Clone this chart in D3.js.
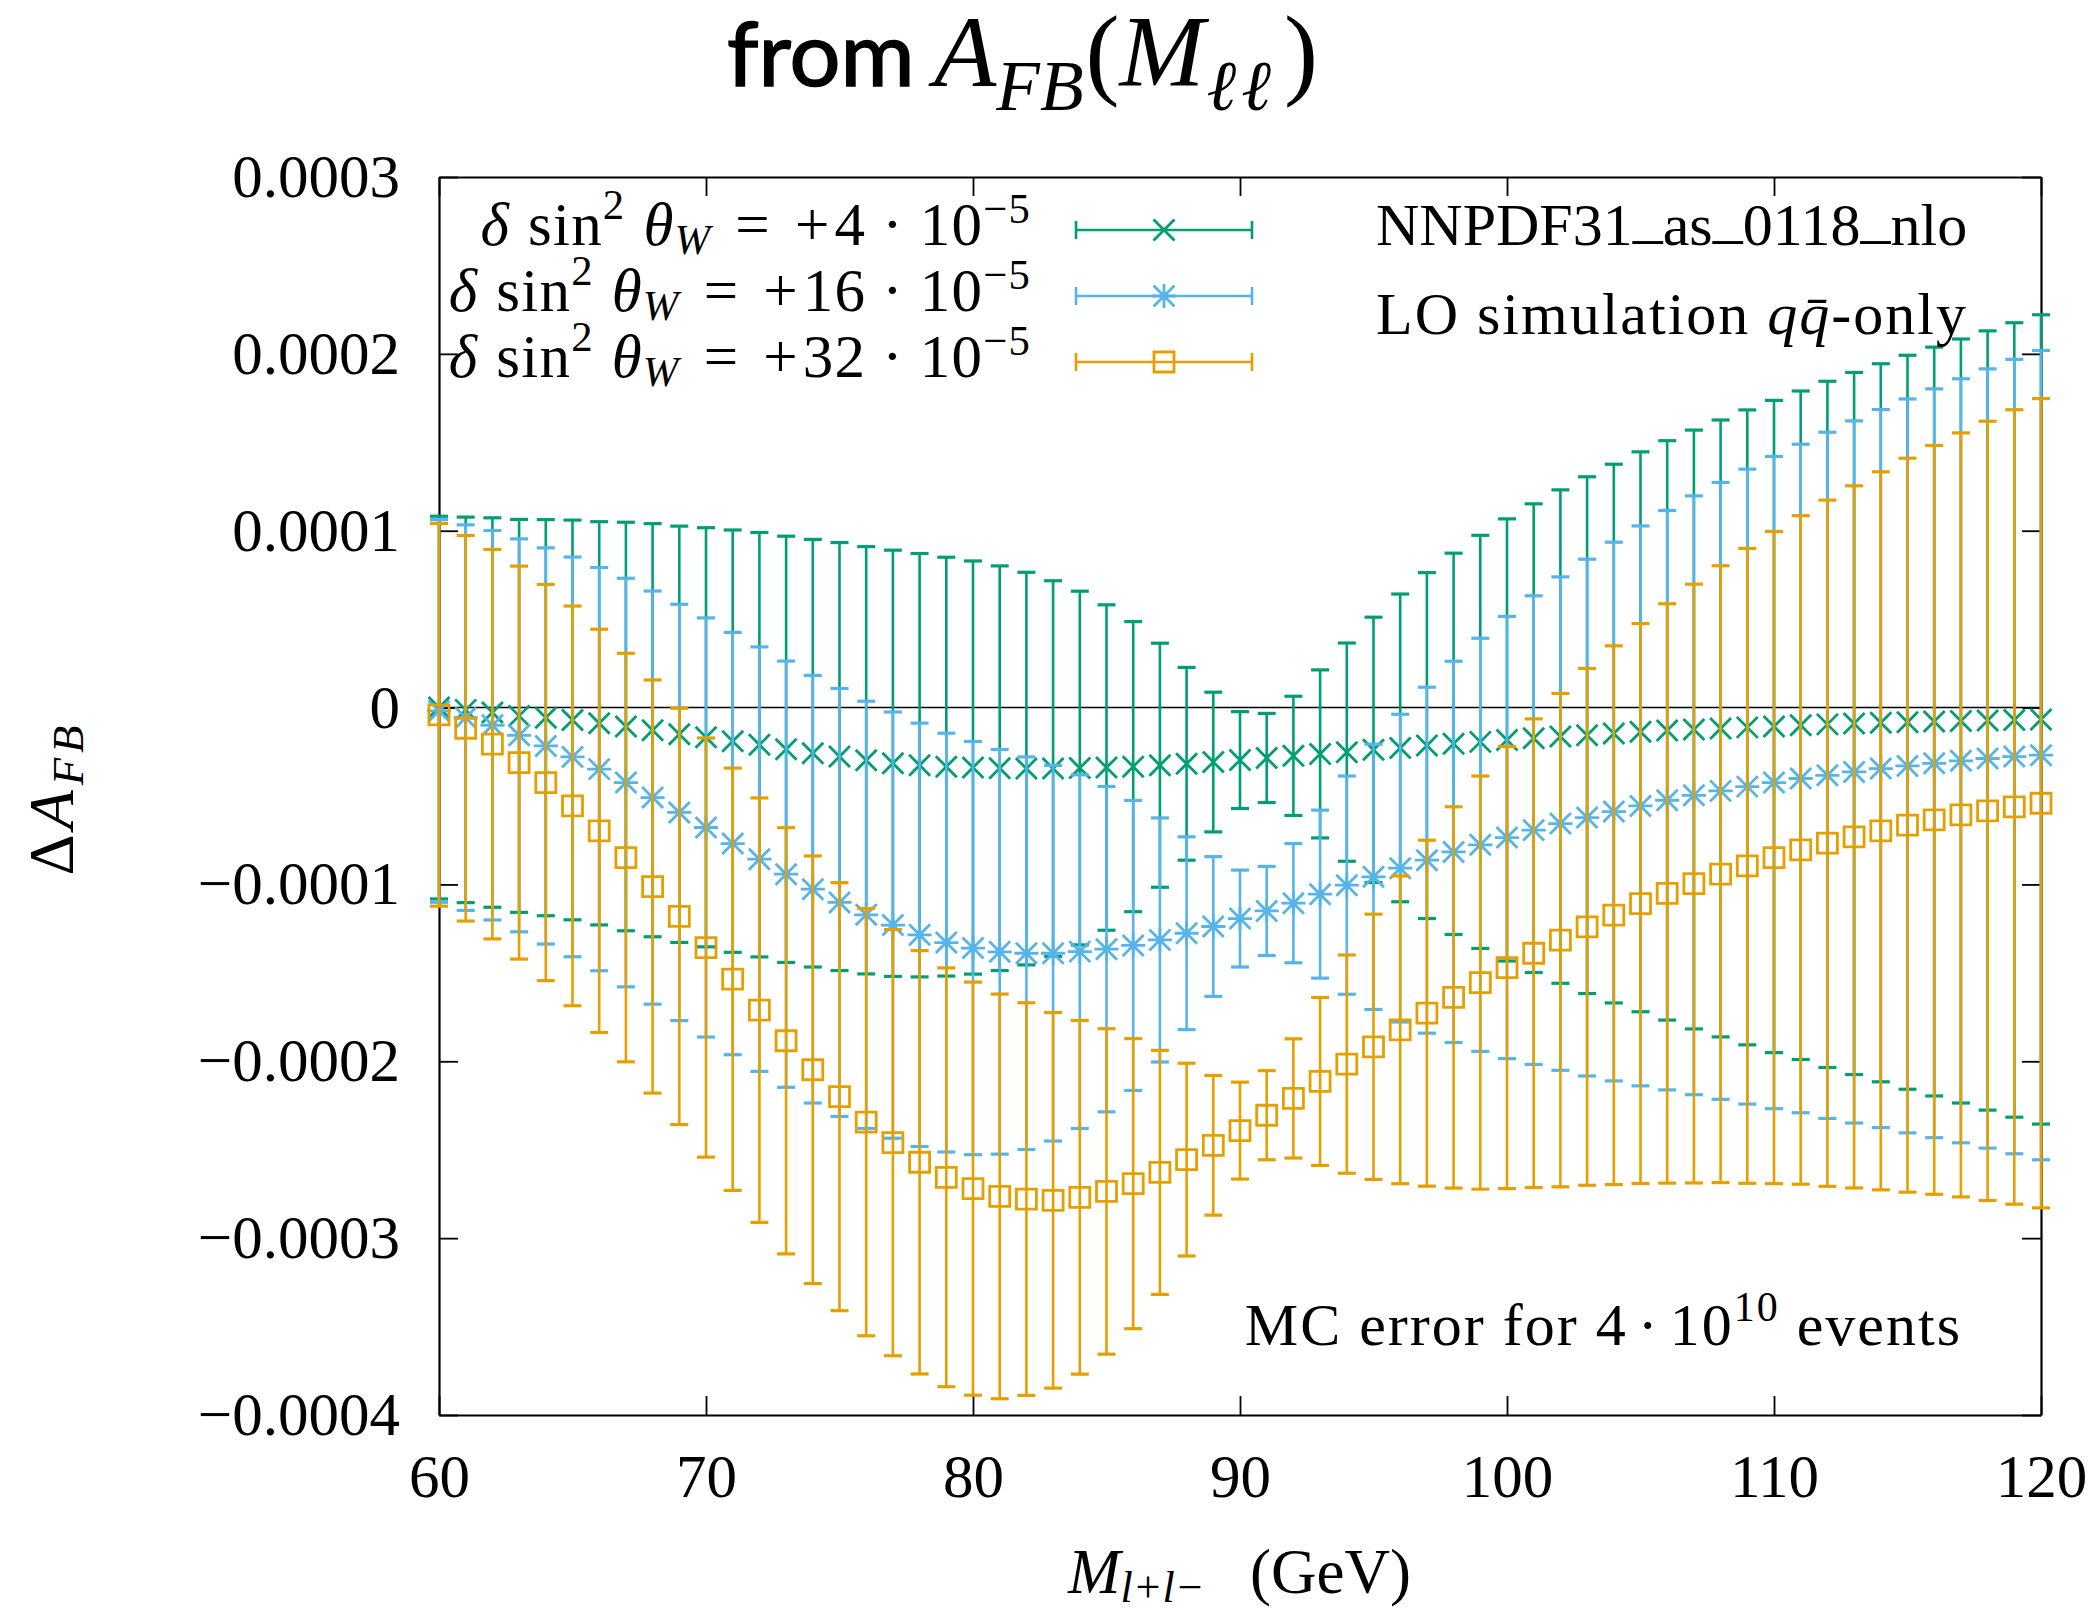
<!DOCTYPE html>
<html>
<head>
<meta charset="utf-8">
<script src="https://cdn.jsdelivr.net/npm/d3@7"></script>
<style>
  body { margin: 0; background: #fff; }
  svg text { font-family: "Liberation Serif", "DejaVu Serif", serif; fill: #000; white-space: pre; }
</style>
</head>
<body>
<svg id="chart" width="2095" height="1611"></svg>
<script>
// dilepton mass bins (GeV)
var masses = [60, 61, 62, 63, 64, 65, 66, 67, 68, 69,
  70, 71, 72, 73, 74, 75, 76, 77, 78, 79,
  80, 81, 82, 83, 84, 85, 86, 87, 88, 89,
  90, 91, 92, 93, 94, 95, 96, 97, 98, 99,
  100, 101, 102, 103, 104, 105, 106, 107, 108, 109,
  110, 111, 112, 113, 114, 115, 116, 117, 118, 119, 120];

// MC error, same for all three curves (units of 1e-4)
var mcError = [1.082, 1.09, 1.101, 1.111, 1.12, 1.13, 1.14, 1.155, 1.168, 1.177,
  1.185, 1.194, 1.2, 1.205, 1.209, 1.21, 1.208, 1.205, 1.197, 1.184,
  1.168, 1.144, 1.11, 1.062, 1.0, 0.92, 0.82, 0.69, 0.545, 0.395,
  0.274, 0.252, 0.337, 0.475, 0.617, 0.75, 0.87, 0.978, 1.078, 1.168,
  1.25, 1.325, 1.395, 1.461, 1.523, 1.583, 1.638, 1.693, 1.744, 1.795,
  1.844, 1.89, 1.94, 1.985, 2.03, 2.075, 2.117, 2.16, 2.203, 2.246, 2.288];

// Delta A_FB (units of 1e-4)
var shift4 = [0, -0.013, -0.028, -0.047, -0.057, -0.07, -0.089, -0.107, -0.128, -0.151,
  -0.168, -0.19, -0.21, -0.236, -0.258, -0.277, -0.298, -0.315, -0.326, -0.334,
  -0.339, -0.343, -0.345, -0.345, -0.342, -0.339, -0.334, -0.326, -0.318, -0.308,
  -0.297, -0.285, -0.273, -0.262, -0.252, -0.239, -0.228, -0.215, -0.205, -0.194,
  -0.183, -0.173, -0.164, -0.156, -0.147, -0.137, -0.129, -0.124, -0.118, -0.112,
  -0.107, -0.1, -0.095, -0.09, -0.086, -0.083, -0.079, -0.076, -0.073, -0.07, -0.067];

var shift16 = [-0.019, -0.057, -0.1, -0.157, -0.217, -0.279, -0.348, -0.424, -0.509, -0.593,
  -0.678, -0.769, -0.857, -0.942, -1.027, -1.102, -1.172, -1.23, -1.285, -1.329,
  -1.36, -1.381, -1.389, -1.389, -1.38, -1.366, -1.345, -1.314, -1.276, -1.238,
  -1.193, -1.15, -1.106, -1.055, -1.004, -0.957, -0.908, -0.863, -0.816, -0.776,
  -0.735, -0.693, -0.656, -0.622, -0.588, -0.556, -0.524, -0.496, -0.471, -0.447,
  -0.424, -0.401, -0.383, -0.364, -0.345, -0.33, -0.315, -0.301, -0.288, -0.277, -0.269];

var shift32 = [-0.041, -0.117, -0.207, -0.311, -0.424, -0.556, -0.697, -0.848, -1.012, -1.181,
  -1.357, -1.536, -1.711, -1.884, -2.048, -2.2, -2.344, -2.46, -2.571, -2.656,
  -2.72, -2.764, -2.779, -2.786, -2.769, -2.736, -2.692, -2.628, -2.556, -2.475,
  -2.392, -2.305, -2.21, -2.114, -2.016, -1.918, -1.822, -1.728, -1.639, -1.555,
  -1.47, -1.389, -1.315, -1.24, -1.174, -1.108, -1.051, -0.995, -0.942, -0.895,
  -0.848, -0.805, -0.767, -0.731, -0.697, -0.665, -0.635, -0.607, -0.584, -0.562, -0.541];

var xTicks = [60, 70, 80, 90, 100, 110, 120];
var yTicks = [-4, -3, -2, -1, 0, 1, 2, 3];
var yTickLabels = ["\u22120.0004", "\u22120.0003", "\u22120.0002", "\u22120.0001", "0", "0.0001", "0.0002", "0.0003"];

var seriesValues = [shift4, shift16, shift32];
var seriesShift = ["4", "16", "32"];
var seriesColors = ["#009e73", "#56b4e9", "#e69f00"];
var seriesMarkers = ["cross", "star", "square"];

(function() {
	var plotLeft = 439, plotRight = 2041, plotTop = 177, plotBottom = 1415;

	var x = d3.scaleLinear().domain([60, 120]).range([plotLeft, plotRight]);
	var y = d3.scaleLinear().domain([-4, 3]).range([plotBottom, plotTop]);

	var svg = d3.select("#chart");

	var fs = 61;
	var tickLen = 19;

	// rich text: parts with italic / sup / sub / extra spacing
	function richText(sel, parts, size) {
		var shift = 0;
		parts.forEach(function(p) {
			var ts = sel.append("tspan").text(p.t);
			var target = 0;
			if (p.sup) target = -p.sup * size;
			if (p.sub) target = p.sub * size;
			if (p.off) target = p.off;
			if (target - shift !== 0) ts.attr("dy", target - shift);
			shift = target;
			if (p.sup || p.sub) ts.attr("font-size", size * 0.7);
			if (p.it) ts.attr("font-style", "italic");
			if (p.x) ts.attr("x", p.x);
			if (p.dx) ts.attr("dx", p.dx);
			if (p.ls) ts.attr("letter-spacing", p.ls);
		});
		return sel;
	}

	// axes
	function styleAxis(g) {
		g.attr("font-family", "Liberation Serif, DejaVu Serif, serif").attr("font-size", fs);
		g.select(".domain").attr("stroke", "#000").attr("stroke-width", 2.2);
		g.selectAll(".tick line").attr("stroke", "#000").attr("stroke-width", 1.8);
	}

	svg.append("g").attr("transform", "translate(0," + plotBottom + ")")
		.call(d3.axisBottom(x).tickValues(xTicks).tickSizeInner(-tickLen).tickSizeOuter(0).tickPadding(39))
		.call(styleAxis);

	svg.append("g").attr("transform", "translate(0," + plotTop + ")")
		.call(d3.axisTop(x).tickValues(xTicks).tickSizeInner(-tickLen).tickSizeOuter(0).tickFormat(""))
		.call(styleAxis);

	svg.append("g").attr("transform", "translate(" + plotLeft + ",0)")
		.call(d3.axisLeft(y).tickValues(yTicks).tickSizeInner(-tickLen).tickSizeOuter(0).tickPadding(39)
			.tickFormat(function(d) { return yTickLabels[yTicks.indexOf(d)]; }))
		.call(styleAxis);

	svg.append("g").attr("transform", "translate(" + plotRight + ",0)")
		.call(d3.axisRight(y).tickValues(yTicks).tickSizeInner(-tickLen).tickSizeOuter(0).tickFormat(""))
		.call(styleAxis);

	// zero line
	svg.append("line")
		.attr("x1", x(60)).attr("x2", x(120))
		.attr("y1", y(0)).attr("y2", y(0))
		.attr("stroke", "#000").attr("stroke-width", 1.6);

	// markers
	function drawMarker(g, kind, cx, cy, color) {
		var r = 10.5;
		var p = d3.path();
		if (kind === "cross" || kind === "star") {
			p.moveTo(cx - r, cy - r); p.lineTo(cx + r, cy + r);
			p.moveTo(cx - r, cy + r); p.lineTo(cx + r, cy - r);
		}
		if (kind === "star") {
			p.moveTo(cx - r * 1.15, cy); p.lineTo(cx + r * 1.15, cy);
			p.moveTo(cx, cy - r * 1.15); p.lineTo(cx, cy + r * 1.15);
		}
		if (kind === "square") {
			p.rect(cx - 10, cy - 10, 20, 20);
		}
		g.append("path").attr("d", p.toString())
			.attr("fill", "none").attr("stroke", color).attr("stroke-width", 2.8);
	}

	var capW = 9;

	seriesValues.forEach(function(vals, si) {
		var color = seriesColors[si];
		var g = svg.append("g").attr("class", "series");
		masses.forEach(function(m, i) {
			var cx = x(m);
			var yHi = y(vals[i] + mcError[i]);
			var yLo = y(vals[i] - mcError[i]);
			g.append("line").attr("x1", cx).attr("x2", cx).attr("y1", yHi).attr("y2", yLo)
				.attr("stroke", color).attr("stroke-width", 2.6);
			[yHi, yLo].forEach(function(yy) {
				g.append("line").attr("x1", cx - capW).attr("x2", cx + capW).attr("y1", yy).attr("y2", yy)
					.attr("stroke", color).attr("stroke-width", 3.2);
			});
			drawMarker(g, seriesMarkers[si], cx, y(vals[i]), color);
		});
	});

	// legend (upper left)
	var legFs = 61;
	seriesShift.forEach(function(s, i) {
		var ly = 230 + 66 * i;
		var t = svg.append("text").attr("x", 1031).attr("y", ly + 15)
			.attr("text-anchor", "end").attr("font-size", legFs).attr("letter-spacing", 1.2);
		richText(t, [
			{t: "\u03b4", it: true},
			{t: "sin", dx: 18},
			{t: "2", sup: 0.42},
			{t: "\u03b8", it: true, dx: 18},
			{t: "W", sub: 0.15, it: true},
			{t: "=", dx: 24},
			{t: "+", dx: 24},
			{t: s, dx: 4},
			{t: "\u00b7", dx: 16},
			{t: "10", dx: 16},
			{t: "\u22125", sup: 0.36}
		], legFs);
		var c = seriesColors[i];
		var g = svg.append("g");
		g.append("line").attr("x1", 1076).attr("x2", 1252).attr("y1", ly).attr("y2", ly)
			.attr("stroke", c).attr("stroke-width", 2.6);
		[1076, 1252].forEach(function(xx) {
			g.append("line").attr("x1", xx).attr("x2", xx).attr("y1", ly - capW).attr("y2", ly + capW)
				.attr("stroke", c).attr("stroke-width", 2.6);
		});
		drawMarker(g, seriesMarkers[i], 1164, ly, c);
	});

	// key texts (upper right)
	var k1 = svg.append("text").attr("x", 1376).attr("y", 245).attr("font-size", 60);
	richText(k1, [
		{t: "NNPDF31"}, {t: "_", off: -9}, {t: "as"}, {t: "_", off: -9}, {t: "0118"}, {t: "_", off: -9}, {t: "nlo"}
	], 60);

	var k2 = svg.append("text").attr("x", 1376).attr("y", 334).attr("font-size", 60)
		.attr("letter-spacing", 2);
	richText(k2, [
		{t: "LO simulation "}, {t: "qq\u0304", it: true}, {t: "-only"}
	], 60);

	// MC note
	var note = svg.append("text").attr("x", 1962).attr("y", 1345)
		.attr("text-anchor", "end").attr("font-size", 60).attr("letter-spacing", 2);
	richText(note, [
		{t: "MC error for 4"}, {t: "\u00b7", dx: 10}, {t: "10", dx: 10}, {t: "10", sup: 0.4}, {t: " events"}
	], 60);

	// axis titles
	var xt = svg.append("text").attr("x", 1068).attr("y", 1593).attr("font-size", 63);
	richText(xt, [
		{t: "M", it: true},
		{t: "l+l\u2212", sub: 0.15, it: true},
		{t: "(GeV)", x: 1250}
	], 63);

	var yt = svg.append("text").attr("transform", "translate(73,798) rotate(-90)")
		.attr("text-anchor", "middle").attr("font-size", 64).attr("letter-spacing", 5);
	richText(yt, [
		{t: "\u0394"},
		{t: "A", it: true},
		{t: "FB", sub: 0.15, it: true}
	], 64);

	// title
	svg.append("text").attr("x", 727).attr("y", 86)
		.attr("font-weight", 400).attr("font-size", 90)
		.attr("stroke", "#000").attr("stroke-width", 1.6)
		.style("font-family", "Lato, 'Open Sans', sans-serif")
		.text("from");

	var tt = svg.append("text").attr("x", 934).attr("y", 86).attr("font-size", 102);
	richText(tt, [
		{t: "A", it: true},
		{t: "FB", sub: 0.24, it: true},
		{t: "(", dx: 2},
		{t: "M", it: true},
		{t: "\u2113\u2113", sub: 0.24, it: true, ls: 5, dx: 2},
		{t: ")", dx: 8}
	], 102);
})();
</script>
</body>
</html>
